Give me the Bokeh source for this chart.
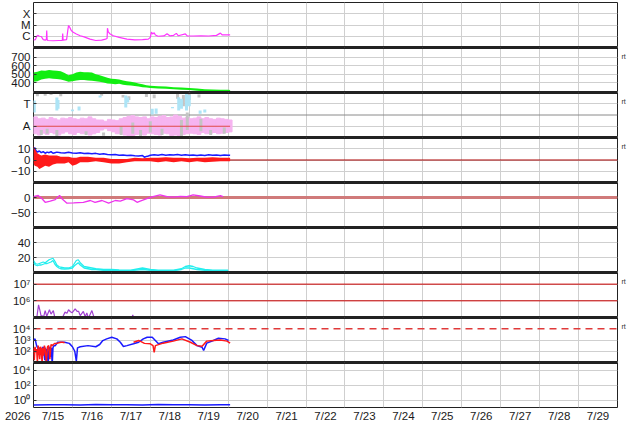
import math
from bokeh.plotting import figure
from bokeh.layouts import column
from bokeh.models import Range1d, FixedTicker, CustomJSTickFormatter, Span, LinearAxis
from bokeh.core.properties import value
from bokeh.embed import file_html
from bokeh.resources import INLINE

NAN = float("nan")

# ---------------- axis texts ----------------
day_labels = ["7/15", "7/16", "7/17", "7/18", "7/19", "7/20", "7/21", "7/22",
              "7/23", "7/24", "7/25", "7/26", "7/27", "7/28", "7/29"]
year_label = "2026"
day_edges = [0, 1, 2, 3, 4, 5, 6, 7, 8, 9, 10, 11, 12, 13, 14, 15]
day_mid = [0.5, 1.5, 2.5, 3.5, 4.5, 5.5, 6.5, 7.5, 8.5, 9.5, 10.5, 11.5, 12.5, 13.5, 14.5]

# ---------------- panel 1: X-ray flux ----------------
xray_t = [0.00, 0.05, 0.08, 0.12, 0.15, 0.20, 0.25, 0.30, 0.33, 0.34, 0.35, 0.37, 0.50, 0.65, 0.74,
          0.75, 0.76, 0.85, 0.88, 0.90, 0.93, 0.97, 1.02, 1.10, 1.20, 1.30, 1.45, 1.60, 1.75, 1.85,
          1.89, 1.90, 1.92, 1.96, 2.05, 2.20, 2.40, 2.60, 2.80, 2.95, 3.00, 3.03, 3.06, 3.10, 3.13,
          3.20, 3.35, 3.43, 3.50, 3.60, 3.67, 3.72, 3.90, 3.95, 4.10, 4.30, 4.50, 4.70, 4.80, 4.85,
          5.00, 5.05]
xray_flux = [4.8e-7, 5.0e-7, 1.0e-6, 1.2e-6, 1.0e-6, 9.5e-7, 5.0e-7, 4.5e-7, 5.0e-7, 3.2e-6,
             5.0e-7, 4.2e-7, 4.0e-7, 4.2e-7, 4.2e-7, 1.7e-6, 4.5e-7, 5.0e-7, 3.2e-6, 9.1e-6,
             6.3e-6, 3.2e-6, 2.3e-6, 1.6e-6, 1.1e-6, 8.9e-7, 5.6e-7, 4.2e-7, 4.5e-7, 5.6e-7,
             6.3e-7, 5.2e-6, 2.5e-6, 1.7e-6, 1.1e-6, 7.9e-7, 5.6e-7, 4.8e-7, 5.0e-7, 5.6e-7,
             7.9e-7, 2.3e-6, 1.6e-6, 2.0e-6, 1.3e-6, 1.0e-6, 1.07e-6, 1.7e-6, 1.1e-6, 1.2e-6,
             1.8e-6, 1.1e-6, 1.6e-6, 1.07e-6, 1.05e-6, 1.1e-6, 1.05e-6, 1.2e-6, 1.9e-6, 1.3e-6,
             1.3e-6, 1.3e-6]
xray_ticks = [1e-6, 1e-5, 1e-4]
xray_labels = ["C", "M", "X"]

# ---------------- panel 2: wind speed (noisy band) ----------------
wind_t = [0.0, 0.1, 0.2, 0.3, 0.4, 0.5, 0.6, 0.7, 0.8, 0.9, 1.0, 1.1, 1.2, 1.3, 1.4, 1.5, 1.6, 1.7,
          1.8, 1.9, 2.0, 2.1, 2.2, 2.3, 2.4, 2.5, 2.6, 2.7, 2.8, 2.9, 3.0, 3.2, 3.4, 3.6, 3.8, 4.0,
          4.2, 4.4, 4.6, 4.8, 5.0, 5.05]
wind_lo = [415, 420, 440, 450, 455, 450, 445, 440, 430, 415, 420, 430, 435, 435, 430, 425, 420, 415,
           405, 395, 390, 385, 390, 380, 375, 370, 365, 358, 352, 348, 342, 336, 332, 328, 322, 318,
           310, 305, 300, 298, 296, 300]
wind_hi = [520, 530, 545, 540, 550, 545, 540, 535, 515, 490, 500, 520, 530, 525, 525, 520, 500, 490,
           475, 460, 450, 445, 440, 430, 420, 415, 405, 395, 385, 375, 368, 362, 358, 352, 348, 342,
           335, 328, 325, 322, 322, 320]
wind_ticks = [400, 500, 600, 700]
wind_labels = ["400", "500", "600", "700"]

# ---------------- panel 3: field angle (T / A) ----------------
pink_t = [0.05, 0.15, 0.25, 0.35, 0.45, 0.55, 0.65, 0.75, 0.85, 0.95, 1.05, 1.15, 1.25, 1.35, 1.45,
          1.55, 1.65, 1.75, 1.85, 1.95, 2.05, 2.15, 2.25, 2.35, 2.45, 2.55, 2.65, 2.75, 2.85, 2.95,
          3.05, 3.15, 3.25, 3.35, 3.45, 3.55, 3.65, 3.75, 3.85, 3.95, 4.05, 4.15, 4.25, 4.35, 4.45,
          4.55, 4.65, 4.75, 4.85, 4.95, 5.05]
pink_lo = [30, 20, 35, 25, 40, 30, 20, 35, 45, 30, 25, 40, 30, 35, 20, 30, 40, 60, 70, 55,
           45, 30, 35, 20, 15, 10, 25, 30, 20, 35, 30, 25, 20, 35, 30, 15, 20, 10, 25, 30,
           35, 30, 25, 40, 30, 35, 40, 30, 35, 40, 45]
pink_hi = [165, 150, 155, 145, 160, 150, 140, 155, 150, 160, 150, 145, 155, 150, 165, 150, 140, 140, 130, 145,
           140, 135, 150, 160, 170, 175, 165, 160, 165, 150, 165, 160, 170, 175, 160, 165, 180, 170, 155, 160,
           150, 155, 165, 150, 160, 150, 145, 155, 150, 145, 140]
grey_t = [0.10, 0.30, 0.45, 0.70, 1.75, 2.30, 2.45, 2.90, 3.10, 3.70, 3.85, 4.00, 4.25,
          0.20, 0.35, 0.60, 1.35, 1.80, 2.25, 2.55, 2.75, 3.00, 3.30, 3.80, 3.95, 4.30, 4.55, 4.90]
grey_lo = [330, 335, 340, 330, 335, 320, 300, 325, 315, 310, 250, 300, 320,
           20, 30, 10, 20, 15, 20, 30, 10, 40, 20, 10, 60, 50, 20, 30]
grey_hi = [358, 355, 358, 350, 358, 340, 330, 350, 345, 350, 340, 358, 345,
           60, 70, 60, 50, 40, 90, 120, 60, 130, 70, 140, 200, 150, 60, 80]
ltblue_t = [0.02, 0.60, 0.63, 1.00, 1.17, 1.71, 2.37, 2.42, 3.05, 3.15, 3.57, 3.73, 3.80, 3.93, 4.00, 4.28, 4.40]
ltblue_lo = [200, 216, 230, 210, 216, 320, 240, 280, 185, 190, 235, 216, 230, 216, 250, 190, 200]
ltblue_hi = [296, 320, 300, 225, 248, 336, 336, 320, 230, 232, 245, 322, 310, 350, 340, 216, 225]
phi_away = 90
phi_mid = 180
phi_ticks = [90, 270]
phi_labels = ["A", "T"]

# ---------------- panel 4: Bt (blue) and Bz (red band) ----------------
bt_t = [0, 0.03, 0.06, 0.1, 0.15, 0.2, 0.25, 0.3, 0.35, 0.4, 0.45, 0.5, 0.55, 0.6, 0.7, 0.8, 0.9,
        1.0, 1.1, 1.2, 1.3, 1.4, 1.5, 1.6, 1.7, 1.8, 1.9, 2.0, 2.1, 2.2, 2.3, 2.4, 2.5, 2.6, 2.7,
        2.8, 2.85, 2.9, 2.95, 3.0, 3.1, 3.2, 3.3, 3.4, 3.5, 3.6, 3.7, 3.8, 3.9, 4.0, 4.1, 4.2, 4.3,
        4.4, 4.5, 4.6, 4.7, 4.8, 4.9, 5.0, 5.05]
bt_val = [9, 11, 8.5, 7, 8, 6.5, 7.5, 6, 7, 6.5, 7.5, 6, 6.5, 7, 6.5, 6.2, 6.8, 6.3, 6, 6.4, 5.8,
          6.1, 5.6, 5.9, 5.2, 5.5, 4.8, 4.6, 4.9, 4.3, 4.5, 4.0, 4.2, 3.8, 3.6, 3.9, 2.5, 3.2, 3.6,
          4.2, 4.6, 4.3, 4.8, 4.2, 4.6, 4.4, 4.9, 4.3, 4.7, 4.2, 4.5, 3.9, 4.4, 4.1, 4.6, 4.2, 4.5,
          4.0, 4.4, 4.3, 4.2]
bz_t = [0, 0.03, 0.1, 0.15, 0.2, 0.3, 0.4, 0.5, 0.6, 0.7, 0.8, 0.9, 1.0, 1.1, 1.2, 1.4, 1.6, 1.8,
        2.0, 2.2, 2.4, 2.6, 2.8, 3.0, 3.2, 3.4, 3.6, 3.8, 4.0, 4.2, 4.4, 4.6, 4.8, 5.0, 5.05]
bz_lo = [-3, -5, -6, -8, -7, -5, -6, -4, -3, -3, -3, -2, -5, -4, -2, -2, -1, -2, -3, -3, -2, -1,
         -1, -1, -2, -1, -2, -1, -2, -1, -2, -1.5, -1, -1, -1]
bz_hi = [13, 10, 6, 5, 4, 5, 4, 4, 4, 3, 3, 3, 2, 2, 3, 3, 2, 2, 1, 1, 1, 2, 1.5, 2, 2, 2.5, 2, 2,
         1.5, 2, 2, 2.5, 2, 2, 2]
b_ticks = [-10, 0, 10]
b_labels = ["\u221210", "0", "10"]

# ---------------- panel 5: Dst-like index ----------------
dst_t = [0, 0.12, 0.22, 0.3, 0.43, 0.56, 0.67, 0.73, 0.86, 1.03, 1.28, 1.46, 1.58, 1.76, 1.93, 2.1,
         2.23, 2.4, 2.57, 2.66, 2.74, 2.91, 3.07, 3.25, 3.43, 3.59, 3.77, 3.94, 4.1, 4.28, 4.45, 4.62,
         4.8, 4.87]
dst_val = [3, 7, -4, -16, -12, -7, 7, -4, -19, -18, -16, -10, -16, -10, -19, -10, -12, -4, -8, -16,
           -12, -4, 3, 9, 3, 1, 4, 3, 9, 5, 1, 1, 6, 3]
dst_ticks = [-50, 0]
dst_labels = ["\u221250", "0"]

# ---------------- panel 6: density (two traces) ----------------
dens_t = [0, 0.05, 0.1, 0.15, 0.2, 0.25, 0.3, 0.35, 0.4, 0.45, 0.5, 0.55, 0.6, 0.65, 0.7, 0.8, 0.9,
          1.0, 1.05, 1.1, 1.15, 1.2, 1.3, 1.4, 1.5, 1.6, 1.8, 2.0, 2.2, 2.5, 2.8, 3.0, 3.2, 3.4, 3.6,
          3.8, 3.9, 4.0, 4.1, 4.2, 4.4, 4.6, 4.8, 5.0]
dens_a = [16, 12, 11, 12, 13, 14, 13, 15, 17, 18, 19, 15, 10, 8, 7, 6, 6, 8, 12, 16, 17, 13, 8, 7,
          6, 5, 4, 4, 3.5, 3, 6, 4, 3, 3, 3, 5, 8, 9, 8, 6, 4, 3, 3, 3]
dens_b = [13, 10, 9, 10, 10, 11, 12, 12, 13, 14, 16, 11, 8, 6, 5, 4.5, 5, 6, 9, 11, 13, 10, 6, 5,
          4, 4, 3, 3, 2.5, 2.5, 4, 3, 2.5, 2.5, 2.5, 4, 6, 6, 5, 4, 3, 2.5, 2.5, 2.5]
dens_ticks = [20, 40]
dens_labels = ["20", "40"]

# ---------------- panel 7: proton flux ----------------
prot_t = [0.02, 0.09, 0.13, 0.16, 0.20, 0.22, 0.26, 0.30, 0.34, 0.41, 0.45, 0.47, 0.51, 0.56, NAN,
          0.74, 0.76, 0.81, 0.86, 0.90, 0.95, 0.99, 1.07, 1.12, 1.16, 1.20, 1.28, 1.33, 1.37, 1.41,
          1.50, 1.54, 1.58, NAN, 2.52, 2.55, 2.58]
prot_val = [7e4, 1.2e5, 5.8e5, 3.0e5, 1.1e5, 1.3e5, 1.1e5, 2.6e5, 1.2e5, 2.9e5, 1.6e5, 1.9e5, 2.6e5,
            7e4, NAN, 7e4, 1.2e5, 2.1e5, 1.8e5, 2.9e5, 2.2e5, 1.9e5, 3.3e5, 2.3e5, 2.3e5, 1.3e5,
            2.3e5, 1.1e5, 1.9e5, 9e4, 2.6e5, 1.3e5, 7e4, NAN, 8e4, 1.45e5, 8e4]
prot_levels = [1e6, 1e7]
prot_ticks = [1e6, 1e7]
prot_labels = ["10\u2076", "10\u2077"]

# ---------------- panel 8: electron flux ----------------
eb_t = [0.00, 0.04, 0.08, 0.12, 0.16, 0.20, 0.25, 0.29, 0.31, 0.33, 0.35, 0.38, 0.40, 0.43, 0.46,
        0.48, 0.50, 0.52, 0.56, 0.62, 0.70, 0.80, 0.92, 1.00, 1.06, 1.10, 1.13, 1.20, 1.40, 1.60,
        1.70, 1.78, 1.88, 2.01, 2.14, 2.23, 2.31, 2.40, 2.57, 2.70, 2.82, 2.92, 3.05, 3.13, 3.21,
        3.33, 3.59, 3.77, 3.90, 4.07, 4.20, 4.33, 4.37, 4.45, 4.62, 4.75, 4.92, 5.01]
eb_val = [912, 1259, 316, 158, 200, 126, 251, 16, 200, 6, 158, 10, 251, 32, 200, 6, 200, 316, 316,
          631, 631, 631, 501, 251, 100, 13, 200, 251, 316, 251, 398, 891, 1259, 1778, 1259, 631,
          263, 316, 457, 631, 1259, 1778, 1778, 912, 457, 631, 1000, 1778, 1995, 912, 316, 229,
          117, 525, 912, 1445, 1259, 912]
er_t = [0, 0.02, 0.04, 0.06, 0.08, 0.1, 0.12, 0.14, 0.16, 0.18, 0.2, 0.22, 0.24, 0.26, 0.28, 0.3,
        0.33, 0.36, 0.39, 0.42, 0.45, 0.48, 0.51, 0.55, 0.6, 0.65, 0.7, 0.75, 0.8, NAN,
        2.57, 2.7, 2.85, 3.0, 3.07, 3.1, 3.13, 3.33, 3.59, 3.81, 4.03, 4.2, 4.33, 4.45, 4.62, 4.8,
        4.97, 5.05]
er_val = [200, 16, 251, 79, 158, 10, 316, 126, 20, 251, 158, 8, 200, 40, 316, 158, 10, 251, 316, 20,
          398, 316, 398, 501, 501, 562, 631, 631, 562, NAN,
          631, 912, 501, 457, 316, 79, 316, 525, 794, 1259, 631, 316, 282, 794, 912, 1000, 794, 525]
elec_alert = 1e4
elec_ticks = [1e2, 1e3, 1e4]
elec_labels = ["10\u00b2", "10\u00b3", "10\u2074"]

# ---------------- panel 9: low-level flux ----------------
low_t = [0, 0.4, 0.8, 1.2, 1.6, 2.0, 2.4, 2.8, 3.2, 3.6, 4.0, 4.4, 4.8, 5.05]
low_val = [0.22, 0.24, 0.23, 0.22, 0.25, 0.23, 0.24, 0.22, 0.25, 0.23, 0.24, 0.22, 0.24, 0.23]
low_ticks = [1e0, 1e2, 1e4]
low_labels = ["10\u2070", "10\u00b2", "10\u2074"]

rt_text = "rt"

# ---------------- layout helpers ----------------
W = 634
H = 45
TOP = 2
STRIP_H = 15
LEFT = 33
RIGHT = 17
FONT = "Liberation Sans"
FSIZE = "11.5px"
GRID = "#cfcfcf"
SEP = "#222222"

xr = Range1d(0, 15)

JS = """
for (let i = 0; i < tvals.length; i++) {
    const a = islog ? Math.log10(tvals[i]) : tvals[i];
    const b = islog ? Math.log10(tick) : tick;
    if (Math.abs(a - b) < 1e-6 * Math.max(1, Math.abs(a))) return tlabels[i];
}
return "";
"""


def style_axis(ax, size, standoff):
    ax.major_tick_out = 0
    ax.major_tick_in = 0
    ax.minor_tick_in = 0
    ax.minor_tick_out = 0
    ax.axis_line_color = None
    ax.major_label_standoff = standoff
    ax.major_label_text_font = FONT
    ax.major_label_text_font_size = size
    ax.major_label_text_color = "#1a1a1a"


def make_panel(lo, hi, log, ticks, labels, first=False, last=False, rt=False, grid=None):
    h = H + (TOP if first else 0) + (1 if last else 0)
    p = figure(width=W, height=h, x_range=xr, y_range=Range1d(lo, hi),
               y_axis_type="log" if log else "linear",
               x_axis_location=None,
               toolbar_location=None, output_backend="svg",
               min_border_left=LEFT, min_border_right=RIGHT,
               min_border_top=TOP if first else 0,
               min_border_bottom=1 if last else 0)
    p.outline_line_color = SEP
    p.outline_line_width = 1
    p.background_fill_color = "white"
    p.border_fill_color = "white"
    p.xgrid.ticker = FixedTicker(ticks=day_edges)
    p.xgrid.grid_line_color = GRID
    p.ygrid.ticker = FixedTicker(ticks=grid if grid is not None else ticks)
    p.ygrid.grid_line_color = GRID
    ax = p.yaxis[0]
    ax.ticker = FixedTicker(ticks=ticks)
    ax.formatter = CustomJSTickFormatter(args=dict(tvals=ticks, tlabels=labels, islog=log), code=JS)
    style_axis(ax, FSIZE, 3)
    ax.major_tick_in = 3
    ax.major_tick_line_color = "#333333"
    if not last:
        p.add_layout(Span(location=lo, dimension="width", line_color=SEP, line_width=3))
    if not first:
        p.add_layout(Span(location=hi, dimension="width", line_color=SEP, line_width=3))
    if rt:
        if log:
            ly = 10 ** (math.log10(hi) - 9.0 / H * (math.log10(hi) - math.log10(lo)))
        else:
            ly = hi - 9.0 / H * (hi - lo)
        rax = LinearAxis(ticker=FixedTicker(ticks=[ly]),
                         formatter=CustomJSTickFormatter(args=dict(rtxt=rt_text), code="return rtxt;"))
        style_axis(rax, "7px", 4)
        rax.major_label_text_color = "#333333"
        p.add_layout(rax, "right")
    return p


figs = []

# 1 X-ray
p1 = make_panel(1e-7, 1e-3, True, xray_ticks, xray_labels, first=True)
p1.line(xray_t, xray_flux, line_color="#ff33ff", line_width=1.2)
figs.append(p1)

# 2 wind
p2 = make_panel(290, 810, False, wind_ticks, wind_labels, rt=True)
p2.varea(x=wind_t, y1=wind_lo, y2=wind_hi, fill_color="#11ee11")
figs.append(p2)

# 3 angle
p3 = make_panel(0, 360, False, phi_ticks, phi_labels, rt=True)
p3.add_layout(Span(location=phi_mid, dimension="width", line_color="#8a8a8a", line_width=1, level="underlay"))
p3.vbar(x=pink_t, width=0.1, bottom=pink_lo, top=pink_hi, fill_color="#f6b4f0",
        line_color="#f6b4f0", line_width=1)
p3.segment(x0=grey_t, y0=grey_lo, x1=grey_t, y1=grey_hi, line_color="#c4c4c4", line_width=3)
p3.segment(x0=ltblue_t, y0=ltblue_lo, x1=ltblue_t, y1=ltblue_hi, line_color="#ade4f6", line_width=3)
p3.line(x=[pink_t[0] - 0.05, pink_t[-1]], y=[phi_away, phi_away], line_color="#e04a4a", line_width=1)
figs.append(p3)

# 4 magnetic field
p4 = make_panel(-20, 20, False, b_ticks, b_labels, rt=True)
p4.add_layout(Span(location=0, dimension="width", line_color="#aa0000", line_width=1, level="underlay"))
p4.line(bt_t, bt_val, line_color="#1a1aff", line_width=1.5)
p4.varea(x=bz_t, y1=bz_lo, y2=bz_hi, fill_color="#ff1a1a")
figs.append(p4)

# 5 index
p5 = make_panel(-100, 50, False, dst_ticks, dst_labels)
p5.add_layout(Span(location=0, dimension="width", line_color="#d07a7a", line_width=3, level="underlay"))
p5.line(dst_t, dst_val, line_color="#ee33ee", line_width=1.3)
figs.append(p5)

# 6 density
p6 = make_panel(0, 60, False, dens_ticks, dens_labels)
p6.line(dens_t, dens_a, line_color="#22eeee", line_width=1.3)
p6.line(dens_t, dens_b, line_color="#22eeee", line_width=1.3)
figs.append(p6)

# 7 protons
p7 = make_panel(1e5, 5e7, True, prot_ticks, prot_labels, rt=True)
for lev in prot_levels:
    p7.add_layout(Span(location=lev, dimension="width", line_color="#cc0000", line_width=1, level="underlay"))
p7.line(prot_t, prot_val, line_color="#a040d0", line_width=1.2)
figs.append(p7)

# 8 electrons
p8 = make_panel(1e1, 1e5, True, elec_ticks, elec_labels, rt=True, grid=[1e2, 1e3])
p8.add_layout(Span(location=elec_alert, dimension="width", line_color="#e03a3a", line_width=1.5,
                   line_dash="7 5", level="underlay"))
p8.line(eb_t, eb_val, line_color="#1a1aff", line_width=1.5)
p8.line(er_t, er_val, line_color="#ff1a1a", line_width=1.5)
figs.append(p8)

# 9 low flux
p9 = make_panel(1e-1, 1e5, True, low_ticks, low_labels, last=True)
p9.line(low_t, low_val, line_color="#1a1aff", line_width=1.5)
figs.append(p9)

# time label strip: same frame as the panels; the year sits in its left axis
px = figure(width=W, height=STRIP_H, x_range=xr, y_range=Range1d(0, 1),
            x_axis_location=None, y_axis_location="left",
            toolbar_location=None, output_backend="svg",
            min_border_left=LEFT, min_border_right=RIGHT, min_border_top=0, min_border_bottom=0)
px.outline_line_color = None
px.xgrid.visible = False
px.ygrid.visible = False
px.background_fill_color = "white"
px.border_fill_color = "white"
yax = px.yaxis[0]
yax.ticker = FixedTicker(ticks=[0.5])
yax.formatter = CustomJSTickFormatter(args=dict(ylab=year_label), code="return ylab;")
style_axis(yax, FSIZE, 3)
px.text(x=day_mid, y=[0.5] * len(day_mid), text=day_labels,
        text_font=value(FONT), text_font_size=FSIZE, text_color="#1a1a1a",
        text_align="center", text_baseline="middle")
figs.append(px)

layout = column(*figs, spacing=0)
open("out.html", "w").write(file_html(layout, INLINE))
